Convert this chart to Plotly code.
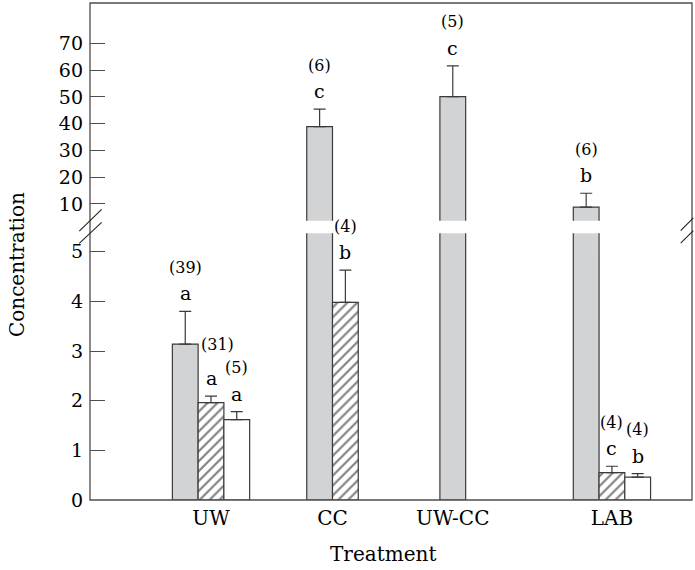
import plotly.graph_objects as go

# ---------------- data ----------------
categories = ["UW", "CC", "UW-CC", "LAB"]
series_names = ["grey", "hatched", "white"]

grey_mean = [3.14, 38.9, 50.1, 8.8]
grey_err = [0.66, 6.5, 11.5, 5.2]
grey_n = ["(39)", "(6)", "(5)", "(6)"]
grey_letter = ["a", "c", "c", "b"]

hatched_mean = [1.96, 3.98, None, 0.55]
hatched_err = [0.13, 0.65, None, 0.13]
hatched_n = ["(31)", "(4)", None, "(4)"]
hatched_letter = ["a", "b", None, "c"]

white_mean = [1.62, None, None, 0.46]
white_err = [0.16, None, None, 0.07]
white_n = ["(5)", None, None, "(4)"]
white_letter = ["a", None, None, "b"]

lower_ticks = [0, 1, 2, 3, 4, 5]
upper_ticks = [10, 20, 30, 40, 50, 60, 70]

# ---------------- layout constants ----------------
FONT = "DejaVu Serif"
group_centers = [1.0, 2.0, 2.99, 4.30]
BAR_W = 0.212
LOWER_MAX = 5.37
UPPER_RANGE = [3.76, 85.05]
AXIS_COL = "#4d4d4d"
GREY = "#d2d3d5"

means = [grey_mean, hatched_mean, white_mean]
errs = [grey_err, hatched_err, white_err]
ns = [grey_n, hatched_n, white_n]
letters = [grey_letter, hatched_letter, white_letter]

styles = [
    dict(color=GREY, pattern=None),
    dict(color="white", pattern=dict(shape="/", fgcolor="black", bgcolor="white",
                                     size=7, solidity=0.3, fillmode="overlay")),
    dict(color="white", pattern=None),
]

# compute x positions: present bars centred on their category
xpos = [[None] * len(categories) for _ in series_names]
for i in range(len(categories)):
    present = [s for s in range(len(series_names)) if means[s][i] is not None]
    nb = len(present)
    for k, s in enumerate(present):
        xpos[s][i] = group_centers[i] + (k - (nb - 1) / 2) * BAR_W

fig = go.Figure()

for s in range(len(series_names)):
    for axis in ["y", "y2"]:
        xs, ys, es = [], [], []
        for i in range(len(categories)):
            v = means[s][i]
            if v is None:
                continue
            if axis == "y2" and v <= LOWER_MAX:
                continue
            xs.append(xpos[s][i])
            ys.append(v)
            es.append(errs[s][i])
        if not xs:
            continue
        marker = dict(color=styles[s]["color"], line=dict(color="#3a3a3a", width=1.2))
        if styles[s]["pattern"]:
            marker["pattern"] = styles[s]["pattern"]
        fig.add_trace(go.Bar(
            x=xs, y=ys, width=BAR_W, marker=marker, yaxis=axis, xaxis="x",
            error_y=dict(type="data", array=es, arrayminus=[0] * len(es),
                         symmetric=False, color="#3a3a3a", thickness=1.2, width=6),
            showlegend=False, hoverinfo="skip",
        ))

# annotations: letters and sample sizes
extra_shift = {(1, 0): (8, 6)}  # (series, category): (extra y px, x px)
for s in range(len(series_names)):
    for i in range(len(categories)):
        v = means[s][i]
        if v is None:
            continue
        top = v + errs[s][i]
        yref = "y2" if v > LOWER_MAX else "y"
        ey, ex = extra_shift.get((s, i), (0, 0))
        fig.add_annotation(x=xpos[s][i], y=top, xref="x", yref=yref, text=letters[s][i],
                           showarrow=False, yshift=18, xanchor="center", yanchor="middle",
                           font=dict(family=FONT, size=19, color="black"))
        fig.add_annotation(x=xpos[s][i], y=top, xref="x", yref=yref, text=ns[s][i],
                           showarrow=False, yshift=44 + ey, xshift=ex,
                           xanchor="center", yanchor="middle",
                           font=dict(family=FONT, size=16, color="black"))

# axis titles
fig.add_annotation(x=-0.121, y=0.473, xref="paper", yref="paper", text="Concentration",
                   textangle=-90, showarrow=False, xanchor="center", yanchor="middle",
                   font=dict(family=FONT, size=20, color="black"))
fig.add_annotation(x=0.487, y=-0.1087, xref="paper", yref="paper", text="Treatment",
                   showarrow=False, xanchor="center", yanchor="middle",
                   font=dict(family=FONT, size=20, color="black"))

# frame
fig.add_shape(type="rect", xref="paper", yref="paper", x0=0, x1=1, y0=0, y1=1,
              line=dict(color=AXIS_COL, width=1.3), layer="above")
# axis break marks
for (x0, y0, x1, y1) in [(-0.0178, 0.5412, 0.0193, 0.5849), (-0.0178, 0.5165, 0.0193, 0.5588),
                         (0.9812, 0.5419, 1.0022, 0.5678), (0.9812, 0.5167, 1.0022, 0.5419)]:
    fig.add_shape(type="line", xref="paper", yref="paper", x0=x0, y0=y0, x1=x1, y1=y1,
                  line=dict(color="#222222", width=1.1), layer="above")

tickfont = dict(family=FONT, size=19, color="black")
fig.update_layout(
    width=695, height=570,
    margin=dict(l=90, r=3, t=3, b=70, autoexpand=False),
    paper_bgcolor="white", plot_bgcolor="white",
    barmode="overlay",
    xaxis=dict(range=[0.004, 4.959], tickvals=group_centers, ticktext=categories,
               showgrid=False, zeroline=False, showline=False, ticks="",
               tickfont=dict(family=FONT, size=20, color="black"), anchor="y",
               ticklabelstandoff=4, automargin=False),
    yaxis=dict(domain=[0, 0.5366], range=[0, LOWER_MAX], tickvals=lower_ticks,
               ticks="inside", ticklen=15, tickcolor=AXIS_COL, tickwidth=1.3,
               showgrid=False, zeroline=False, showline=False, tickfont=tickfont,
               ticklabelstandoff=6, automargin=False),
    yaxis2=dict(domain=[0.562, 1], range=UPPER_RANGE, tickvals=upper_ticks, anchor="x",
                ticks="inside", ticklen=15, tickcolor=AXIS_COL, tickwidth=1.3,
                showgrid=False, zeroline=False, showline=False, tickfont=tickfont,
                ticklabelstandoff=6, automargin=False),
)

fig.write_html("out.html", config={"displayModeBar": False},
               post_script="document.body.style.margin='0';document.body.style.overflow='hidden';")
